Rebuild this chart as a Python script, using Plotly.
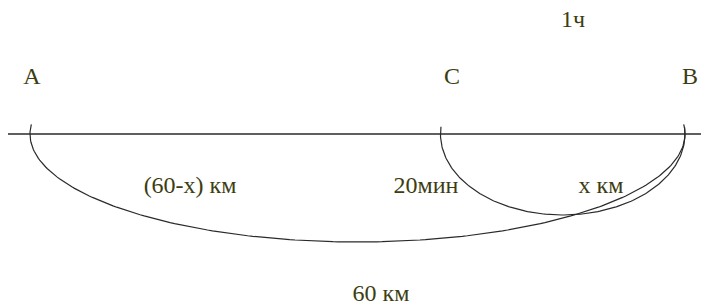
import numpy as np
import plotly.graph_objects as go

# Data (positions in km along the road)
point_names = ["A", "C", "B"]
point_km = [0, 37.6, 60]
total_km = 60
arc_labels = ["(60-x) км", "20мин", "x км"]
time_label = "1ч"
total_label = "60 км"

TXT = "#3d3d12"
LINE = "#2a2a2a"
FONT = "Liberation Serif, DejaVu Serif, serif"
FS = 24

px_per_km = 655 / 60
x0 = -30 / px_per_km
x1 = 60 + 16 / px_per_km
road_y = 134

fig = go.Figure()

fig.add_trace(go.Scatter(x=[-22 / px_per_km, x1], y=[road_y, road_y], mode="lines",
                         line=dict(color=LINE, width=1.6), hoverinfo="skip"))


def arc(xa, xb, depth, up=0.09):
    c = (xa + xb) / 2
    r = (xb - xa) / 2
    t = np.linspace(-up, np.pi + up, 200)
    xs = c - r * np.cos(t)
    ys = road_y + depth * np.sin(t)
    return xs, ys

xs, ys = arc(point_km[0], point_km[2], 108)
fig.add_trace(go.Scatter(x=xs, y=ys, mode="lines", line=dict(color=LINE, width=1.2), hoverinfo="skip"))
xs, ys = arc(point_km[1], point_km[2], 81)
fig.add_trace(go.Scatter(x=xs, y=ys, mode="lines", line=dict(color=LINE, width=1.2), hoverinfo="skip"))

tf = dict(family=FONT, size=FS, color=TXT)

offsets = [0.18, 1.06, 0.46]
fig.add_trace(go.Scatter(x=[p + o for p, o in zip(point_km, offsets)], y=[78] * 3, mode="text",
                         text=point_names, textfont=tf, hoverinfo="skip"))

fig.add_trace(go.Scatter(x=[14.66, 36.27, 52.3], y=[187] * 3, mode="text", text=arc_labels,
                         textfont=tf, hoverinfo="skip"))
fig.add_trace(go.Scatter(x=[49.74], y=[21], mode="text", text=[time_label],
                         textfont=tf, hoverinfo="skip"))
fig.add_trace(go.Scatter(x=[total_km / 2 + 2.15], y=[295], mode="text", text=[total_label],
                         textfont=tf, hoverinfo="skip"))

fig.update_layout(
    width=701, height=306, margin=dict(l=0, r=0, t=0, b=0),
    paper_bgcolor="white", plot_bgcolor="white", showlegend=False,
    xaxis=dict(range=[x0, x1], visible=False, fixedrange=True),
    yaxis=dict(range=[306, 0], visible=False, fixedrange=True),
)
fig.write_html("out.html", config={"displayModeBar": False},
               post_script="document.body.style.margin='0';document.body.style.overflow='hidden';")
